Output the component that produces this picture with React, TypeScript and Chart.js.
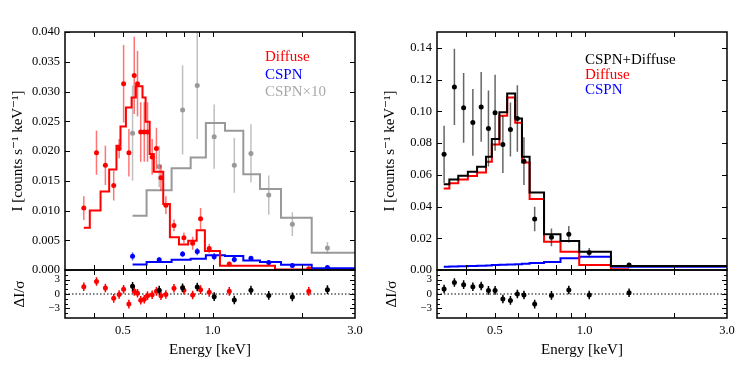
import React, { useEffect, useRef } from 'react';
import { Chart, registerables } from 'chart.js';
Chart.register(...registerables);

const SERIF = '"Liberation Serif", "DejaVu Serif", serif';

// ---------- axes ----------
const X_MIN = 0.32;
const X_MAX = 3.0;
const xTickLabels = [0.5, 1.0, 3.0];
const xTickMarks = [0.4, 0.5, 0.6, 0.7, 0.8, 0.9, 1.0, 2.0];
const leftYTicks = [0, 0.005, 0.01, 0.015, 0.02, 0.025, 0.03, 0.035, 0.04];
const LEFT_Y_MAX = 0.04;
const rightYTicks = [0, 0.02, 0.04, 0.06, 0.08, 0.1, 0.12, 0.14];
const RIGHT_Y_MAX = 0.15;
const resYTicks = [-3, 0, 3];
const resYMinor = [-4, -3, -2, -1, 0, 1, 2, 3, 4];
const RES_MIN = -5;
const RES_MAX = 5;

// ---------- left panel: data ----------
const diffuseE = [0.370, 0.408, 0.437, 0.466, 0.486, 0.503, 0.524, 0.546, 0.560, 0.574, 0.590, 0.605, 0.627, 0.648, 0.671, 0.697, 0.742, 0.801, 0.857, 0.911, 0.974, 1.137, 2.10];
const diffuseI = [0.0104, 0.0197, 0.0176, 0.0142, 0.0204, 0.0313, 0.0197, 0.0327, 0.0313, 0.0232, 0.0232, 0.0232, 0.0190, 0.0204, 0.0155, 0.0109, 0.0075, 0.0054, 0.0045, 0.0086, 0.0036, 0.0010, 0.0002];
const diffuseErr = [0.0020, 0.0037, 0.0033, 0.0025, 0.0016, 0.0065, 0.0040, 0.0065, 0.0055, 0.0050, 0.0050, 0.0050, 0.0030, 0.0035, 0.0022, 0.0015, 0.0010, 0.0009, 0.0011, 0.0018, 0.0008, 0.0004, 0.0002];
const diffuseRes = [1.5, 2.6, 1.25, -0.9, -0.1, 1.0, -2.1, 0.55, 0.15, -1.3, -1.1, -0.35, -0.15, 0.55, -0.35, -0.1, 1.2, 0.8, -0.2, 0.9, 0.35, 0.55, 0.55];

const cspnE = [0.539, 0.662, 0.793, 0.888, 1.012, 1.182, 1.344, 1.542, 1.850, 2.425];
const cspnI = [0.00230, 0.00174, 0.00269, 0.00310, 0.00224, 0.00176, 0.00196, 0.00126, 0.00077, 0.00040];
const cspnErr = [0.0007, 0.0004, 0.0005, 0.0006, 0.0006, 0.0005, 0.0004, 0.0004, 0.0003, 0.0003];
const cspn10I = [0.0230, 0.0174, 0.0269, 0.0310, 0.0224, 0.0176, 0.0196, 0.0126, 0.0077, 0.0037];
const cspn10Err = [0.0080, 0.0035, 0.0075, 0.0090, 0.0054, 0.0046, 0.0049, 0.0033, 0.0020, 0.0010];
const cspnRes = [1.6, 0.8, 1.3, 1.45, -0.55, -1.25, 0.8, -0.3, -0.6, 0.9];

const diffuseModelEdges = [0.370, 0.3875, 0.421, 0.450, 0.476, 0.491, 0.512, 0.535, 0.553, 0.582, 0.596, 0.615, 0.635, 0.683, 0.719, 0.771, 0.828, 0.884, 0.942, 1.058, 1.618, 2.121];
const diffuseModel = [0.0071, 0.0100, 0.0132, 0.0169, 0.0209, 0.0241, 0.0273, 0.0290, 0.0309, 0.0290, 0.0249, 0.0195, 0.0165, 0.0111, 0.0055, 0.0043, 0.0049, 0.0067, 0.0032, 0.0007, 0.0001];

const cspnModelEdges = [0.539, 0.6006, 0.7285, 0.844, 0.949, 1.100, 1.267, 1.441, 1.695, 2.148, 3.0];
const cspnModel = [0.00091, 0.00134, 0.00171, 0.00189, 0.00247, 0.00234, 0.00161, 0.00136, 0.00088, 0.00029];
const cspn10Model = [0.0091, 0.0134, 0.0171, 0.0189, 0.0247, 0.0234, 0.0161, 0.0136, 0.0088, 0.0029];

// ---------- right panel: data ----------
const totE = [0.338, 0.366, 0.393, 0.422, 0.450, 0.476, 0.501, 0.532, 0.564, 0.595, 0.626, 0.680, 0.774, 0.885, 1.036, 1.409];
const totI = [0.0729, 0.1154, 0.1022, 0.0930, 0.1028, 0.0892, 0.0991, 0.0791, 0.0886, 0.0955, 0.0686, 0.0321, 0.0206, 0.0225, 0.0111, 0.0031];
const totErr = [0.018, 0.024, 0.022, 0.021, 0.022, 0.024, 0.024, 0.018, 0.017, 0.021, 0.015, 0.0077, 0.0056, 0.0052, 0.0027, 0.0012];
const totRes = [1.04, 2.4, 1.94, 1.52, 1.67, 0.75, 0.75, -1.04, -1.33, 0.0, -0.2, -2.1, -0.3, 0.83, -0.2, 0.27];

const rightEdges = [0.337, 0.352, 0.377, 0.406, 0.436, 0.467, 0.4885, 0.518, 0.550, 0.585, 0.6165, 0.654, 0.731, 0.830, 0.959, 1.225, 1.409, 3.0];
const totModel = [0.0540, 0.0571, 0.0594, 0.0619, 0.0651, 0.0714, 0.0825, 0.0995, 0.1113, 0.0955, 0.0714, 0.0489, 0.0225, 0.0183, 0.0115, 0.0025, 0.0025];
const diffModelR = [0.0514, 0.0546, 0.0571, 0.0592, 0.0615, 0.0682, 0.0791, 0.0972, 0.1087, 0.0928, 0.0678, 0.0447, 0.0178, 0.0115, 0.0031, 0.0004];
const cspnModelR = [0.0021, 0.0022, 0.0023, 0.0025, 0.0027, 0.0029, 0.0031, 0.0033, 0.0035, 0.0037, 0.0039, 0.0044, 0.0050, 0.0074, 0.0084, 0.0021, 0.0021];

// ---------- colours ----------
const RED = '#ff0000';
const RED_ERR = 'rgba(255,0,0,0.55)';
const BLUE = '#0000ff';
const BLUE_ERR = 'rgba(0,0,255,0.6)';
const GRAY = '#999999';
const GRAY_ERR = 'rgba(150,150,150,0.6)';
const BLACK = '#000000';
const BLACK_ERR = 'rgba(0,0,0,0.6)';

// ---------- helpers ----------
function stepPoints(edges: number[], levels: number[]) {
  const pts = levels.map((l, i) => ({ x: edges[i], y: l }));
  pts.push({ x: edges[levels.length], y: levels[levels.length - 1] });
  return pts;
}
function errPoints(xs: number[], ys: number[], es: number[] | number) {
  const pts: any[] = [];
  xs.forEach((x, i) => {
    const e = Array.isArray(es) ? es[i] : es;
    pts.push({ x, y: ys[i] - e }, { x, y: ys[i] + e }, { x, y: null });
  });
  return pts;
}
const stepDs = (edges: number[], levels: number[], color: string, order: number, width = 2) => ({
  data: stepPoints(edges, levels), borderColor: color, borderWidth: width, stepped: 'before',
  pointRadius: 0, fill: false, tension: 0, order,
});
const errDs = (xs: number[], ys: number[], es: number[] | number, color: string, order: number, width = 1.5) => ({
  data: errPoints(xs, ys, es), borderColor: color, borderWidth: width, pointRadius: 0,
  spanGaps: false, fill: false, order,
});
const ptDs = (xs: number[], ys: number[], color: string, order: number, r = 2.5) => ({
  data: xs.map((x, i) => ({ x, y: ys[i] })), showLine: false, pointRadius: r,
  pointBackgroundColor: color, pointBorderColor: color, pointBorderWidth: 0, order,
});
const zeroDs = (order: number) => ({
  data: [{ x: X_MIN, y: 0 }, { x: X_MAX, y: 0 }], borderColor: BLACK, borderWidth: 1.2,
  borderDash: [1.5, 2], pointRadius: 0, fill: false, order,
});

const framePlugin = {
  id: 'frame',
  afterDatasetsDraw(chart: any, _args: any, opts: any) {
    const { ctx, chartArea: a, scales } = chart;
    ctx.save();
    ctx.strokeStyle = '#000';
    ctx.lineWidth = 1;
    ctx.beginPath();
    const L = 5;
    for (const v of opts.xTicks || []) {
      const px = Math.round(scales.x.getPixelForValue(v)) + 0.5;
      ctx.moveTo(px, a.bottom); ctx.lineTo(px, a.bottom - L);
      ctx.moveTo(px, a.top); ctx.lineTo(px, a.top + L);
    }
    for (const v of opts.yTicks || []) {
      const py = Math.round(scales.y.getPixelForValue(v)) + 0.5;
      ctx.moveTo(a.left, py); ctx.lineTo(a.left + L, py);
      ctx.moveTo(a.right, py); ctx.lineTo(a.right - L, py);
    }
    for (const v of opts.yMinor || []) {
      const py = Math.round(scales.y.getPixelForValue(v)) + 0.5;
      ctx.moveTo(a.left, py); ctx.lineTo(a.left + 3, py);
      ctx.moveTo(a.right, py); ctx.lineTo(a.right - 3, py);
    }
    ctx.stroke();
    ctx.lineWidth = 1.5;
    ctx.strokeRect(a.left, a.top, a.right - a.left, a.bottom - a.top);
    if (opts.legend) {
      ctx.font = `15px ${SERIF}`;
      ctx.textBaseline = 'middle';
      ctx.textAlign = 'left';
      for (const it of opts.legend) {
        ctx.fillStyle = it.color;
        ctx.fillText(it.text, a.left + opts.legendX, a.top + it.dy);
      }
    }
    ctx.restore();
  },
};

const zeroPad = (s: any) => { s.paddingTop = 0; s.paddingBottom = 0; s.paddingLeft = 0; s.paddingRight = 0; };

function makeConfig(p: {
  datasets: any[]; yMin: number; yMax: number; yTicks: number[]; yFmt: (v: number) => string;
  yTitle: string; yTitlePad: number; yFont: number; showX: boolean; xHeight: number;
  padding: any; frame: any;
}) {
  return {
    type: 'line',
    data: { datasets: p.datasets },
    options: {
      animation: false,
      responsive: false,
      devicePixelRatio: 1,
      events: [],
      layout: { padding: p.padding },
      plugins: { legend: { display: false }, tooltip: { enabled: false }, frame: p.frame },
      scales: {
        x: {
          type: 'logarithmic', min: X_MIN, max: X_MAX, bounds: 'data', display: p.showX,
          afterBuildTicks: (s: any) => {
            s.ticks = xTickLabels.map((v) => ({ value: v }));
            s.min = X_MIN; s.max = X_MAX;
          },
          afterFit: (s: any) => { s.height = p.xHeight; zeroPad(s); },
          ticks: {
            callback: (v: any) => Number(v).toFixed(1), font: { family: SERIF, size: 12.5 },
            color: '#000', padding: 5, maxRotation: 0, autoSkip: false,
          },
          grid: { display: false, drawTicks: false },
          border: { display: false },
          title: {
            display: p.showX, text: 'Energy [keV]', color: '#000',
            font: { family: SERIF, size: 15 }, padding: { top: 0, bottom: 15 },
          },
        },
        y: {
          type: 'linear', min: p.yMin, max: p.yMax,
          afterBuildTicks: (s: any) => { s.ticks = p.yTicks.map((v) => ({ value: v })); },
          afterFit: (s: any) => { s.width = 65; zeroPad(s); },
          ticks: {
            callback: (v: any) => p.yFmt(Number(v)), font: { family: SERIF, size: p.yFont },
            color: '#000', padding: 5, autoSkip: false,
          },
          grid: { display: false, drawTicks: false },
          border: { display: false },
          title: {
            display: true, text: p.yTitle, color: '#000',
            font: { family: SERIF, size: 15 }, padding: { top: p.yTitlePad, bottom: 0 },
          },
        },
      },
    },
    plugins: [framePlugin],
  } as any;
}

const resFmt = (v: number) => (v < 0 ? '\u2212' + Math.abs(v) : String(v));
const Y_TITLE = 'I [counts s\u207B\u00B9 keV\u207B\u00B9]';
const RES_TITLE = '\u0394I/\u03C3';

const leftMain = () => makeConfig({
  datasets: [
    ptDs(diffuseE, diffuseI, RED, 0),
    errDs(diffuseE, diffuseI, diffuseErr, RED_ERR, 1),
    stepDs(diffuseModelEdges, diffuseModel, RED, 2),
    ptDs(cspnE, cspnI, BLUE, 3),
    errDs(cspnE, cspnI, cspnErr, BLUE_ERR, 4),
    stepDs(cspnModelEdges, cspnModel, BLUE, 5),
    ptDs(cspnE, cspn10I, GRAY, 6),
    errDs(cspnE, cspn10I, cspn10Err, GRAY_ERR, 7),
    stepDs(cspnModelEdges, cspn10Model, GRAY, 8),
  ],
  yMin: 0, yMax: LEFT_Y_MAX, yTicks: leftYTicks, yFmt: (v) => v.toFixed(3),
  yTitle: Y_TITLE, yTitlePad: 9, yFont: 12.5, showX: false, xHeight: 0,
  padding: { top: 32, right: 15, bottom: 4, left: 0 },
  frame: {
    xTicks: xTickMarks, yTicks: leftYTicks, legendX: 200,
    legend: [
      { text: 'Diffuse', color: RED, dy: 25.5 },
      { text: 'CSPN', color: BLUE, dy: 43 },
      { text: 'CSPN\u00D710', color: '#aaaaaa', dy: 60.5 },
    ],
  },
});

const leftRes = () => makeConfig({
  datasets: [
    ptDs(cspnE, cspnRes, BLACK, 0),
    errDs(cspnE, cspnRes, 0.9, BLACK, 1),
    ptDs(diffuseE, diffuseRes, RED, 2),
    errDs(diffuseE, diffuseRes, 0.9, RED, 3),
    zeroDs(4),
  ],
  yMin: RES_MIN, yMax: RES_MAX, yTicks: resYTicks, yFmt: resFmt,
  yTitle: RES_TITLE, yTitlePad: 11, yFont: 11, showX: true, xHeight: 56,
  padding: { top: 4, right: 15, bottom: 0, left: 0 },
  frame: { xTicks: xTickMarks, yTicks: resYTicks, yMinor: resYMinor },
});

const rightMain = () => makeConfig({
  datasets: [
    ptDs(totE, totI, BLACK, 0),
    errDs(totE, totI, totErr, BLACK_ERR, 1),
    stepDs(rightEdges, totModel, BLACK, 2),
    stepDs(rightEdges, diffModelR, RED, 3),
    stepDs(rightEdges, cspnModelR, BLUE, 4),
  ],
  yMin: 0, yMax: RIGHT_Y_MAX, yTicks: rightYTicks, yFmt: (v) => v.toFixed(2),
  yTitle: Y_TITLE, yTitlePad: 9, yFont: 12.5, showX: false, xHeight: 0,
  padding: { top: 32, right: 15, bottom: 4, left: 0 },
  frame: {
    xTicks: xTickMarks, yTicks: rightYTicks, legendX: 148,
    legend: [
      { text: 'CSPN+Diffuse', color: BLACK, dy: 28 },
      { text: 'Diffuse', color: RED, dy: 43.5 },
      { text: 'CSPN', color: BLUE, dy: 58.5 },
    ],
  },
});

const rightRes = () => makeConfig({
  datasets: [
    ptDs(totE, totRes, BLACK, 0),
    errDs(totE, totRes, 0.9, BLACK, 1),
    zeroDs(2),
  ],
  yMin: RES_MIN, yMax: RES_MAX, yTicks: resYTicks, yFmt: resFmt,
  yTitle: RES_TITLE, yTitlePad: 11, yFont: 11, showX: true, xHeight: 56,
  padding: { top: 4, right: 15, bottom: 0, left: 0 },
  frame: { xTicks: xTickMarks, yTicks: resYTicks, yMinor: resYMinor },
});

function ChartCanvas(props: { make: () => any; left: number; top: number; width: number; height: number }) {
  const ref = useRef<HTMLCanvasElement>(null);
  useEffect(() => {
    const chart = new Chart(ref.current as HTMLCanvasElement, props.make());
    return () => chart.destroy();
  }, []);
  return (
    <canvas
      ref={ref}
      width={props.width}
      height={props.height}
      style={{ position: 'absolute', left: props.left, top: props.top, width: props.width, height: props.height }}
    />
  );
}

export default function App() {
  return (
    <div style={{ position: 'absolute', left: 0, top: 0, width: 747, height: 374, background: '#fff' }}>
      <ChartCanvas make={leftMain} left={0} top={0} width={370} height={274} />
      <ChartCanvas make={leftRes} left={0} top={266} width={370} height={108} />
      <ChartCanvas make={rightMain} left={372} top={0} width={370} height={274} />
      <ChartCanvas make={rightRes} left={372} top={266} width={370} height={108} />
    </div>
  );
}
